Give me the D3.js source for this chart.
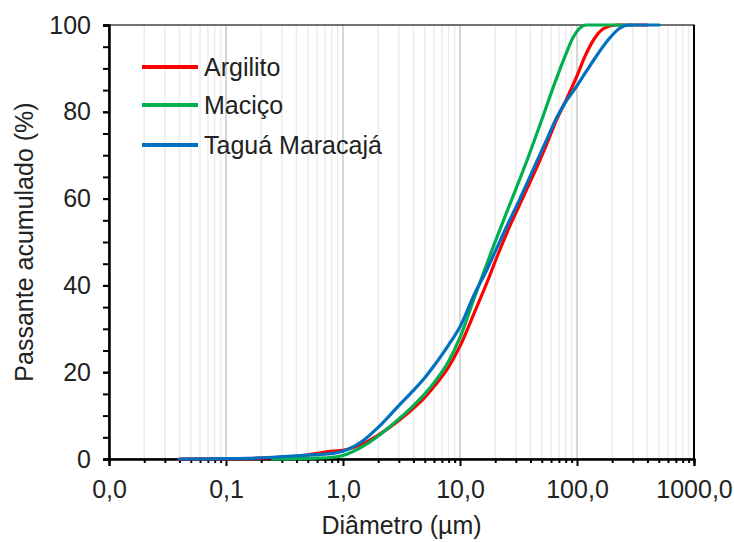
<!DOCTYPE html>
<html><head><meta charset="utf-8">
<script src="https://cdn.jsdelivr.net/npm/d3@7"></script>
<style>html,body{margin:0;padding:0;background:#fff;} text{font-family:"Liberation Sans",Arial,sans-serif;fill:#222;}</style>
</head><body><svg id="c" width="734" height="542"></svg>
<script>
const seriesNames = ["Argilito", "Maciço", "Taguá Maracajá"];
const seriesColors = ["#ff0000", "#00b050", "#0070c0"];
const argilito = [[0.04,0],[0.1,0.05],[0.2,0.2],[0.4,0.6],[0.6,1.3],[0.82,1.8],[1,2.0],[1.5,3.6],[2,5.5],[3,8.9],[4,11.7],[5,14.2],[6,16.7],[8,21.2],[10,26],[13.4,34],[17.8,42],[21,47],[27,54],[34.9,60.5],[46.7,68],[55,72.5],[66,77.8],[80,82.5],[90,85.5],[100,88.3],[118,93],[142,97],[170,99.2],[218,100],[400,100]];
const macico = [[0.25,0],[0.43,0.1],[0.6,0.2],[0.82,0.4],[1,0.8],[1.5,3],[2,5.3],[3,9.2],[4,12.3],[5,15],[6,17.6],[8,22.5],[10,28],[13.4,37.5],[18.8,48.2],[27.6,59.7],[37.5,68.9],[49.9,78.1],[62.9,85.8],[72,90],[81,93.5],[92,97],[105,99.2],[120,100],[300,100]];
const tagua = [[0.04,0],[0.08,0.05],[0.15,0.15],[0.25,0.4],[0.43,0.8],[0.6,1.0],[0.82,1.3],[1,1.8],[1.5,4.3],[2,7.3],[3,12.3],[4,15.8],[5,18.7],[6,21.5],[7,24],[8,26.3],[10,30.5],[13.4,38.2],[16.9,43.5],[20.3,48.2],[26,54.5],[32.6,60],[40,65.3],[47,69.5],[56,74],[66,78.3],[80,82.3],[100,86],[120,89.3],[146,92.8],[185,96.6],[230,99.2],[280,100],[505,100]];
const xTickValues = [0.01, 0.1, 1, 10, 100, 1000];
const xTickLabels = ["0,0", "0,1", "1,0", "10,0", "100,0", "1000,0"];
const yTickValues = [0, 20, 40, 60, 80, 100];
const xTitle = "Diâmetro (µm)";
const yTitle = "Passante acumulado (%)";

const svg = d3.select("#c");
const L = 109, R = 694, T = 25, B = 459;
const x = d3.scaleLog().domain([0.01, 1000]).range([L, R]);
const y = d3.scaleLinear().domain([0, 100]).range([B, T]);

const minor = [];
for (let e = -2; e < 3; e++) for (let k = 2; k <= 9; k++) minor.push(k * Math.pow(10, e));
svg.append("g").selectAll("line").data(minor).join("line")
  .attr("x1", d => x(d)).attr("x2", d => x(d)).attr("y1", T).attr("y2", B)
  .attr("stroke", "#ececec").attr("stroke-width", 1.5);
svg.append("g").selectAll("line").data(xTickValues.slice(1, -1)).join("line")
  .attr("x1", d => x(d)).attr("x2", d => x(d)).attr("y1", T).attr("y2", B)
  .attr("stroke", "#d6d6d6").attr("stroke-width", 2);

svg.append("rect").attr("x", L).attr("y", T).attr("width", R - L).attr("height", B - T)
  .attr("fill", "none").attr("stroke", "#444").attr("stroke-width", 1.5);
svg.append("line").attr("x1", R).attr("x2", R).attr("y1", T).attr("y2", B).attr("stroke", "#000").attr("stroke-width", 2);

const gx = svg.append("g").attr("transform", `translate(0,${B})`)
  .call(d3.axisBottom(x).tickValues(minor).tickSize(4).tickFormat(""));
const gx2 = svg.append("g").attr("transform", `translate(0,${B})`)
  .call(d3.axisBottom(x).tickValues(xTickValues).tickSize(7).tickPadding(14).tickFormat((d, i) => xTickLabels[i]));
[gx, gx2].forEach(g => { g.selectAll("path").attr("stroke", "#000").attr("stroke-width", 2); g.selectAll("line").attr("stroke", "#000").attr("stroke-width", 2); });
gx2.selectAll("text").attr("font-size", 25).attr("fill", "#222").attr("font-family", "Liberation Sans, Arial, sans-serif");

const gy = svg.append("g").attr("transform", `translate(${L},0)`)
  .call(d3.axisLeft(y).tickValues(d3.range(0, 101, 5)).tickSize(6).tickFormat(""));
const gy2 = svg.append("g").attr("transform", `translate(${L},0)`)
  .call(d3.axisLeft(y).tickValues(yTickValues).tickSize(6).tickPadding(12));
[gy, gy2].forEach(g => { g.selectAll("path").attr("stroke", "#000").attr("stroke-width", 2); g.selectAll("line").attr("stroke", "#000").attr("stroke-width", 2); });
gy2.selectAll("text").attr("font-size", 25).attr("fill", "#222").attr("font-family", "Liberation Sans, Arial, sans-serif");

const line = d3.line().x(d => x(d[0])).y(d => y(d[1])).curve(d3.curveMonotoneX);
[argilito, macico, tagua].forEach((s, i) => {
  svg.append("path").datum(s).attr("d", line).attr("fill", "none")
    .attr("stroke", seriesColors[i]).attr("stroke-width", 3.2).attr("stroke-linecap", "round");
});

const ly = [67, 105, 145];
seriesNames.forEach((n, i) => {
  svg.append("line").attr("x1", 142).attr("x2", 198).attr("y1", ly[i]).attr("y2", ly[i])
    .attr("stroke", seriesColors[i]).attr("stroke-width", 4);
  svg.append("text").attr("x", 204).attr("y", ly[i]).attr("dy", "0.35em").attr("font-size", 25).text(n);
});

svg.append("text").attr("x", (L + R) / 2).attr("y", 534).attr("text-anchor", "middle").attr("font-size", 25).text(xTitle);
svg.append("text").attr("transform", `translate(33,${(T + B) / 2}) rotate(-90)`).attr("text-anchor", "middle").attr("font-size", 25).text(yTitle);
</script></body></html>
